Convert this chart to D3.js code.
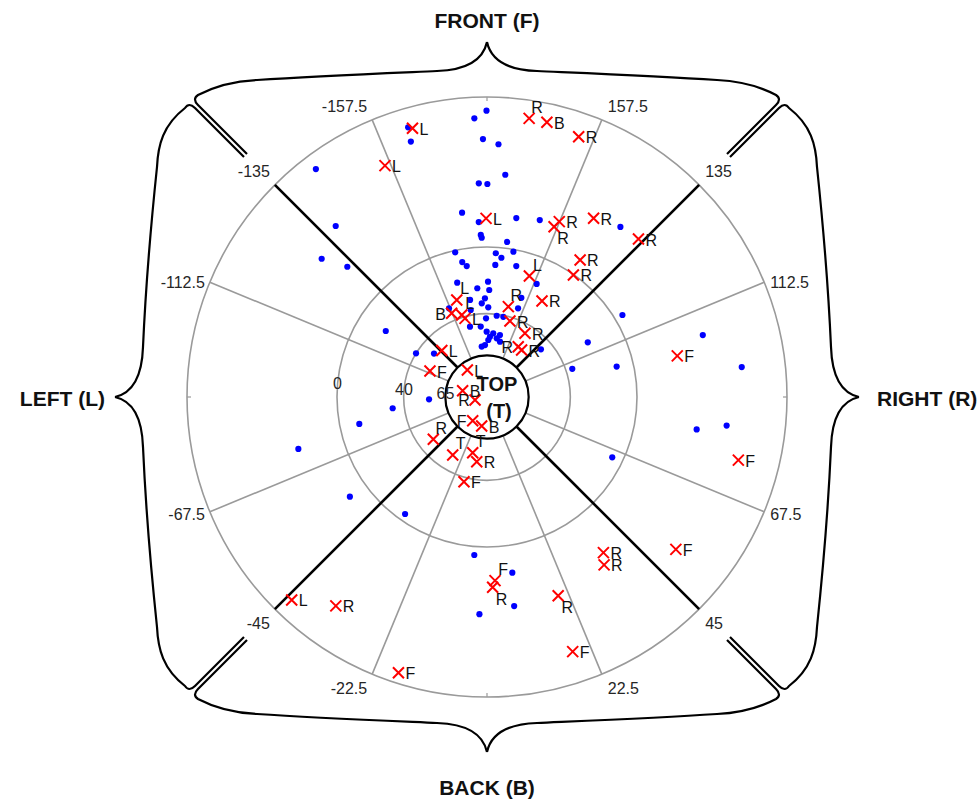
<!DOCTYPE html>
<html><head><meta charset="utf-8">
<script src="https://cdn.jsdelivr.net/npm/d3@7/dist/d3.min.js"></script>
<style>body{margin:0;background:#fff}svg{display:block}</style>
</head><body>
<svg id="chart" width="980" height="802"></svg>
<script>
// ---- data (azimuth in degrees, elevation in degrees) ----
const blueAz = [-179.9,-177.4,-163.7,-163.4,-179.1,177.4,175.3,-177.8,179.9,-172.3,-177.3,170.7,163.4,-177.8,-178.1,172.6,141.9,-143.1,-138.5,-129.9,-133.0,-167.6,176.5,174.1,169.7,-169.6,-171.2,176.4,167.4,156.3,-165.4,179.5,-174.9,178.8,-178.8,-170.1,-176.8,160.9,179.2,-156.8,-169.4,160.7,173.2,168.5,-179.3,-166.4,-174.9,-179.7,174.4,168.2,177.2,170.6,178.7,166.8,-177.8,-174.0,-123.1,-121.6,-129.3,131.5,118.5,108.3,103.2,121.2,106.0,96.7,-87.7,-83.2,-78.1,-54.0,-74.6,81.2,83.2,64.3,-35.0,-4.6,8.2,7.4,-2.0];
const blueEl = [-81.8,-77.4,-78.6,-69.9,-64.8,-61.8,-43.8,-38.3,-37.8,-21.6,-15.1,-18.8,-20.8,-7.3,-5.6,-3.8,-39.7,-81,-47,-39.3,-24.6,1.1,3.6,6,1.4,7.7,10.5,10.6,9.5,15.9,19.1,20.8,24.5,25.8,30.8,30.9,33.7,27.0,36.2,32.1,36.9,33.6,40.9,40.9,42.8,46.6,47.6,50.8,51.6,52,53.8,54.3,55.8,55.9,58.8,59.6,17.5,40,48.9,46.8,21.2,36.1,10.1,-5,-44.7,-63.9,55.2,33,11.7,-11.7,-27.4,-37.3,-54.8,6.6,4.3,-5.1,-16.5,-36.5,-40.4];
const redAz = [-164.5,-156.2,171.4,167.7,160.6,-179.7,157.6,158.5,149.2,145.8,144.7,136.2,160.7,150.2,166.7,-162.7,-157.1,-162.9,-164.4,163.2,149.2,148.1,143.6,-135.8,-114.5,-143.9,-104.5,-76.0,-31.1,-10.4,-51.8,-30.6,-14.4,-9.0,-15.2,102.2,75.9,51.1,36.8,34.9,2.5,1.7,19.7,18.6,-17.8,-43.9,-35.9];
const redEl = [-77.3,-61.7,-79.1,-78.7,-75.6,-17.2,-23.8,-19.8,-34.9,-9.4,0.3,-41.3,13.1,23.6,34.3,29,35.5,38.5,41,42.4,45.5,54.5,55,51.1,52.4,70,74.9,82.6,73.4,72.3,49,49.6,55.5,50.7,37.3,-26.8,-65.5,-55.6,-26.6,-32.8,-20.3,-24.2,-36.7,-71.2,-83.8,-79,-64.7];
const redLab = ['L','L','R','B','R','L','R','R','R','R','R','R','L','R','R','L','B','L','L','R','R','R','R','L','F','L','B','R','F','B','R','T','T','R','F','F','F','F','R','R','F','R','R','F','F','L','R'];
const redPos = ['r','r','a','r','r','r','r','b','r','r','r','r','a','r','a','a','l','a','r','r','r','l','r','r','r','r','r','l','l','r','a','a','a','r','r','r','r','r','r','r','a','b','b','r','r','r','r'];
const azTicks = [-157.5,-135,-112.5,-67.5,-45,-22.5,22.5,45,67.5,112.5,135,157.5];
const graySpokes = [-157.5,-112.5,-67.5,-22.5,22.5,67.5,112.5,157.5];
const blackSpokes = [-135,-45,45,135];
const cardinal = [0,90,180,-90];
const ringEls = [0,40];
const radialLabels = [0,40,65];
const topEl = 65;
const sideNames = ["FRONT (F)","RIGHT (R)","BACK (B)","LEFT (L)"];

// ---- layout ----
const cx = 487, cy = 397, R = 300;
const svg = d3.select("#chart");
const r = d3.scaleLinear().domain([90,-90]).range([0,R]);
const rad = d => d*Math.PI/180;
const px = (az,rr) => cx + rr*Math.sin(rad(az));
const py = (az,rr) => cy + rr*Math.cos(rad(az));
const gray = "#9a9a9a";
const font = "'Liberation Sans', Arial, Helvetica, sans-serif";

svg.append("rect").attr("width",980).attr("height",802).attr("fill","#fff");

// rings
const g = svg.append("g");
g.selectAll("circle.ring").data([-90].concat(ringEls)).join("circle")
  .attr("cx",cx).attr("cy",cy).attr("r",d=>r(d))
  .attr("fill","none").attr("stroke",gray).attr("stroke-width",1.6);
// gray spokes
g.selectAll("line.gs").data(graySpokes).join("line")
  .attr("x1",d=>px(d,r(topEl))).attr("y1",d=>py(d,r(topEl)))
  .attr("x2",d=>px(d,R)).attr("y2",d=>py(d,R))
  .attr("stroke",gray).attr("stroke-width",1.6);
// cardinal ticks
g.selectAll("line.ct").data(cardinal).join("line")
  .attr("x1",d=>px(d,R-4)).attr("y1",d=>py(d,R-4))
  .attr("x2",d=>px(d,R)).attr("y2",d=>py(d,R))
  .attr("stroke",gray).attr("stroke-width",1.2);
// black spokes
g.selectAll("line.bs").data(blackSpokes).join("line")
  .attr("x1",d=>px(d,r(topEl))).attr("y1",d=>py(d,r(topEl)))
  .attr("x2",d=>px(d,R)).attr("y2",d=>py(d,R))
  .attr("stroke","#000").attr("stroke-width",2.6);
// top circle
g.append("circle").attr("cx",cx).attr("cy",cy).attr("r",r(topEl))
  .attr("fill","none").attr("stroke","#000").attr("stroke-width",2.2);

// azimuth tick labels
svg.selectAll("text.az").data(azTicks).join("text")
  .attr("x",d=> px(d,R) + (d<0 ? -5 : 6))
  .attr("y",d=>{const c=Math.cos(rad(d)); return py(d,R) + (c>0.5?14:(c<-0.5?-13.5:(c>0?3:0)));})
  .attr("text-anchor",d=>d<0?"end":"start")
  .attr("dominant-baseline","central")
  .attr("font-family",font).attr("font-size",16).attr("fill","#262626")
  .text(d=>d);
// radial labels
svg.selectAll("text.rl").data(radialLabels).join("text")
  .attr("x",d=>px(-95,r(d))).attr("y",d=>py(-95,r(d)))
  .attr("text-anchor","middle").attr("dominant-baseline","central")
  .attr("font-family",font).attr("font-size",16).attr("fill","#262626")
  .text(d=>d);

// blue dots
const blue = blueAz.map((a,i)=>({az:a, el:blueEl[i]}));
svg.selectAll("circle.dot").data(blue).join("circle")
  .attr("cx",d=>px(d.az,r(d.el))).attr("cy",d=>py(d.az,r(d.el)))
  .attr("r",3.1).attr("fill","#0000ff");

// red crosses
const red = redAz.map((a,i)=>({az:a, el:redEl[i], lab:redLab[i], pos:redPos[i]}));
const s = 5.5;
const xg = svg.append("g");
red.forEach(d=>{
  const x = px(d.az,r(d.el)), y = py(d.az,r(d.el));
  xg.append("path").attr("d",`M${x-s},${y-s}L${x+s},${y+s}M${x-s},${y+s}L${x+s},${y-s}`)
    .attr("stroke","#ff0000").attr("stroke-width",2).attr("fill","none");
});
const off = {r:[7,1,"start"], a:[8,-11,"middle"], b:[9,12,"middle"], l:[-11,1,"middle"]};
svg.selectAll("text.ml").data(red).join("text")
  .attr("x",d=>px(d.az,r(d.el))+off[d.pos][0])
  .attr("y",d=>py(d.az,r(d.el))+off[d.pos][1])
  .attr("text-anchor",d=>off[d.pos][2]).attr("dominant-baseline","central")
  .attr("font-family",font).attr("font-size",16).attr("fill","#111")
  .text(d=>d.lab);

// TOP label
svg.append("text").attr("x",cx+10).attr("y",cy-13).attr("text-anchor","middle")
  .attr("dominant-baseline","central").attr("font-family",font).attr("font-weight","bold")
  .attr("font-size",20).attr("fill","#111").text("TOP");
svg.append("text").attr("x",cx+12).attr("y",cy+14).attr("text-anchor","middle")
  .attr("dominant-baseline","central").attr("font-family",font).attr("font-weight","bold")
  .attr("font-size",20).attr("fill","#111").text("(T)");

// braces
function halfBrace(p, vA, vB, vC, sign){
  const P = (u,v)=>{const q=p(sign*u,v); return q[0]+","+q[1];};
  return `M${P(-240,243)}L${P(-289,292)}Q${P(-295,298)} ${P(-289,302)}`+
    `C${P(-272,vA-6)} ${P(-252,vA-1)} ${P(-230,vA)}`+
    `C${P(-170,vA+(vB-vA)*0.45)} ${P(-95,vB-2)} ${P(-50,vB)}`+
    `C${P(-20,vB+1)} ${P(-4,vC-18)} ${P(0,vC)}`;
}
const sides = [
  {p:(u,v)=>[cx+u, cy-v], vA:317, vB:326, vC:355},
  {p:(u,v)=>[cx+v, cy+u], vA:330, vB:344, vC:372},
  {p:(u,v)=>[cx+u, cy+v], vA:317, vB:326, vC:355},
  {p:(u,v)=>[cx-v, cy+u], vA:330, vB:344, vC:372}
];
sides.forEach(sd=>{
  [1,-1].forEach(sg=>{
    svg.append("path").attr("d",halfBrace(sd.p,sd.vA,sd.vB,sd.vC,sg))
      .attr("fill","none").attr("stroke","#000").attr("stroke-width",2.2)
      .attr("stroke-linejoin","round");
  });
});

// side labels
const sideLbl = [
  {x:cx, y:cy-377, a:"middle"},
  {x:cx+390, y:cy+1, a:"start"},
  {x:cx, y:cy+390, a:"middle"},
  {x:cx-382, y:cy+1, a:"end"}
];
svg.selectAll("text.side").data(sideNames).join("text")
  .attr("x",(d,i)=>sideLbl[i].x).attr("y",(d,i)=>sideLbl[i].y)
  .attr("text-anchor",(d,i)=>sideLbl[i].a).attr("dominant-baseline","central")
  .attr("font-family",font).attr("font-weight","bold").attr("font-size",21).attr("fill","#111")
  .text(d=>d);
</script>
</body></html>
